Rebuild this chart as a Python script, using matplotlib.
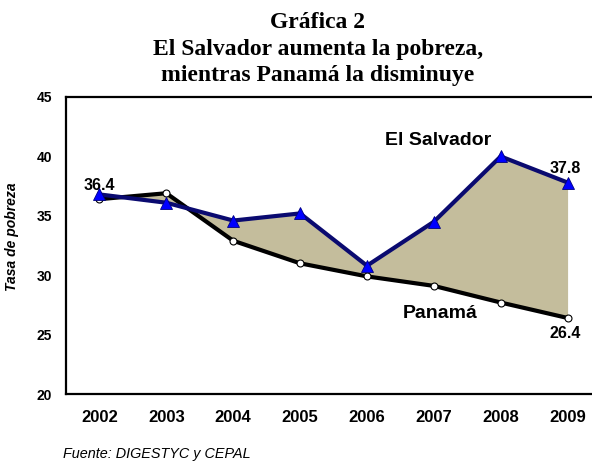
import matplotlib
matplotlib.use("Agg")
import matplotlib.pyplot as plt
import numpy as np

years = ["2002", "2003", "2004", "2005", "2006", "2007", "2008", "2009"]
el_salvador = [36.8, 36.1, 34.6, 35.2, 30.8, 34.5, 40.0, 37.8]
panama = [36.4, 36.9, 32.9, 31.0, 29.9, 29.1, 27.7, 26.4]

title_lines = ["Gráfica 2", "El Salvador aumenta la pobreza,", "mientras Panamá la disminuye"]
ylabel = "Tasa de pobreza"
source = "Fuente: DIGESTYC y CEPAL"

W, H = 592, 462
fig = plt.figure(figsize=(W / 100, H / 100), dpi=100)
ax = fig.add_axes([66 / W, 1 - 394 / H, 1 - 66 / W, (394 - 97) / H])

x = np.arange(len(years))
ax.fill_between(x, el_salvador, panama, color="#C4BD9C", zorder=1, linewidth=0)
ax.plot(x, panama, color="black", lw=3, marker="o", markersize=5,
        markerfacecolor="white", markeredgecolor="black", markeredgewidth=0.8, zorder=3)
ax.plot(x, el_salvador, color="#0A0A70", lw=3, marker="^", markersize=8,
        markerfacecolor="#0000FF", markeredgecolor="#000080", markeredgewidth=0.6, zorder=4)

ax.set_xlim(-0.5, 7.365)
ax.set_ylim(20, 45)
ax.set_yticks([20, 25, 30, 35, 40, 45])
ax.set_xticks(x)
ax.set_xticklabels(years)
ax.tick_params(length=0)
ax.tick_params(axis="x", pad=11.5, labelsize=12)
ax.tick_params(axis="y", pad=10, labelsize=10)
for lab in ax.get_xticklabels() + ax.get_yticklabels():
    lab.set_fontweight("bold")
    lab.set_family("Liberation Sans")
ax.spines["right"].set_visible(False)
for s in ["left", "top", "bottom"]:
    ax.spines[s].set_linewidth(1.6)

ax.set_ylabel(ylabel, fontsize=10, fontstyle="italic", fontweight="bold", family="Liberation Sans")
ax.yaxis.set_label_coords((19 - 66) / (W - 66), (394 - 237) / (394 - 97))

tk = dict(family="Liberation Sans", fontweight="bold")
ax.text(0, 37.2, f"{panama[0]:.1f}", ha="center", va="baseline", fontsize=11.5, **tk)
ax.text(6.96, 38.6, f"{el_salvador[7]:.1f}", ha="center", va="baseline", fontsize=11.5, **tk)
ax.text(6.96, 24.75, f"{panama[7]:.1f}", ha="center", va="baseline", fontsize=11.5, **tk)
ax.text(5.07, 40.95, "El Salvador", ha="center", va="baseline", fontsize=14, **tk)
ax.text(5.09, 26.4, "Panamá", ha="center", va="baseline", fontsize=14, **tk)

# Title: three lines, sized so the second line spans about 330 px
renderer = fig.canvas.get_renderer()
base_fs = 14
probe = fig.text(0, 0, title_lines[1], fontsize=base_fs, family="Liberation Serif", fontweight="bold")
wpx = probe.get_window_extent(renderer=renderer).width
probe.remove()
fs = base_fs * 330 / wpx
for line, yb in zip(title_lines, [28, 55, 81]):
    fig.text(318 / W, 1 - yb / H, line, ha="center", va="baseline", fontsize=fs,
             family="Liberation Serif", fontweight="bold")

fig.text(63 / W, 1 - 458 / H, source, ha="left", va="baseline", fontsize=10.4,
         fontstyle="italic", family="Liberation Sans")

fig.savefig("out.png", dpi=100)
